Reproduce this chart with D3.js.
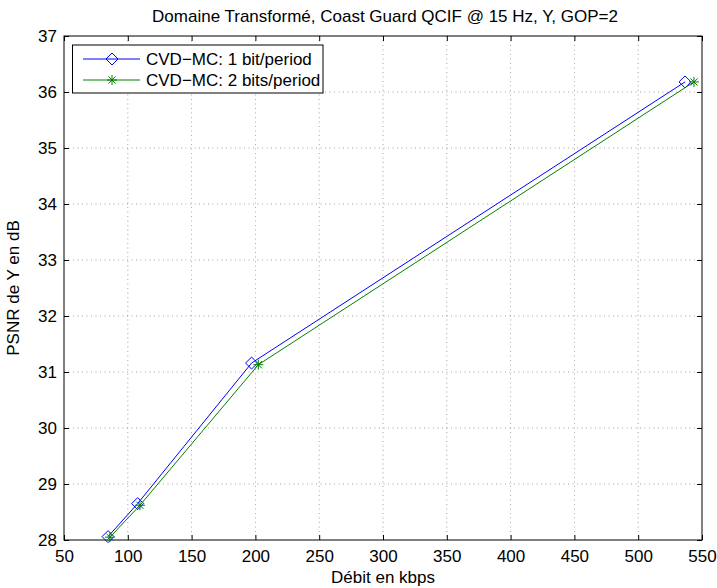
<!DOCTYPE html>
<html><head><meta charset="utf-8">
<script src="https://cdn.jsdelivr.net/npm/d3@7"></script>
<style>body{margin:0;background:#fff}svg{display:block}text{font-family:"Liberation Sans",Arial,sans-serif;fill:#000}</style>
</head><body><svg id="c" width="717" height="588"></svg>
<script>
const title = "Domaine Transformé, Coast Guard QCIF @ 15 Hz, Y, GOP=2";
const xLabel = "Débit en kbps";
const yLabel = "PSNR de Y en dB";
const seriesNames = ["CVD\u2212MC: 1 bit/period", "CVD\u2212MC: 2 bits/period"];
const seriesColors = ["#0000ff", "#008000"];
const s1x = [84.5, 107.7, 197, 536.7];
const s1y = [28.06, 28.65, 31.16, 36.18];
const s2x = [86, 109.5, 202.3, 543.7];
const s2y = [28.05, 28.62, 31.13, 36.18];
const xTicks = [50,100,150,200,250,300,350,400,450,500,550];
const yTicks = [28,29,30,31,32,33,34,35,36,37];

const FS = 17;
const svg = d3.select("#c");
const L=64,R=702,T=36,B=540;
const x = d3.scaleLinear().domain([50,550]).range([L,R]);
const y = d3.scaleLinear().domain([28,37]).range([B,T]);

// grid
const g = svg.append("g");
xTicks.slice(1,-1).forEach(v=>g.append("line").attr("x1",x(v)).attr("x2",x(v)).attr("y1",T).attr("y2",B)
  .attr("stroke","#000").attr("stroke-width",0.6).attr("stroke-dasharray","1,3.5").attr("opacity",0.6));
yTicks.slice(1,-1).forEach(v=>g.append("line").attr("y1",y(v)).attr("y2",y(v)).attr("x1",L).attr("x2",R)
  .attr("stroke","#000").attr("stroke-width",0.6).attr("stroke-dasharray","1,3.5").attr("opacity",0.6));

// axes
const ax = d3.axisBottom(x).tickValues(xTicks).tickSize(-5).tickPadding(10);
svg.append("g").attr("transform",`translate(0,${B})`).call(ax)
 .call(s=>{s.select(".domain").remove();s.selectAll("text").attr("font-size",FS).attr("font-family","Liberation Sans, Arial");});
svg.append("g").attr("transform",`translate(0,${T})`).call(d3.axisTop(x).tickValues(xTicks).tickSize(-5).tickFormat(""))
 .call(s=>s.select(".domain").remove());
const ay = d3.axisLeft(y).tickValues(yTicks).tickSize(-5).tickPadding(7);
svg.append("g").attr("transform",`translate(${L},0)`).call(ay)
 .call(s=>{s.select(".domain").remove();s.selectAll("text").attr("font-size",FS).attr("font-family","Liberation Sans, Arial");});
svg.append("g").attr("transform",`translate(${R},0)`).call(d3.axisRight(y).tickValues(yTicks).tickSize(-5).tickFormat(""))
 .call(s=>s.select(".domain").remove());
svg.selectAll(".tick line").attr("stroke","#000");
svg.append("rect").attr("x",L).attr("y",T).attr("width",R-L).attr("height",B-T).attr("fill","none").attr("stroke","#000").attr("stroke-width",1);

// series
const line = d3.line().x(d=>x(d[0])).y(d=>y(d[1]));
function diamond(sel,cx,cy,c){sel.append("path").attr("d",`M${cx},${cy-6}L${cx+6},${cy}L${cx},${cy+6}L${cx-6},${cy}Z`).attr("fill","none").attr("stroke",c).attr("stroke-width",1);}
function star(sel,cx,cy,c){const r=5,d=3.6;sel.append("path").attr("d",`M${cx-r},${cy}H${cx+r}M${cx},${cy-r}V${cy+r}M${cx-d},${cy-d}L${cx+d},${cy+d}M${cx-d},${cy+d}L${cx+d},${cy-d}`).attr("stroke",c).attr("stroke-width",1);}
const d1 = s1x.map((v,i)=>[v,s1y[i]]);
const d2 = s2x.map((v,i)=>[v,s2y[i]]);
svg.append("path").datum(d1).attr("d",line).attr("fill","none").attr("stroke",seriesColors[0]).attr("stroke-width",1);
d1.forEach(d=>diamond(svg,x(d[0]),y(d[1]),seriesColors[0]));
svg.append("path").datum(d2).attr("d",line).attr("fill","none").attr("stroke",seriesColors[1]).attr("stroke-width",1);
d2.forEach(d=>star(svg,x(d[0]),y(d[1]),seriesColors[1]));

// legend
const lg = svg.append("g");
lg.append("rect").attr("x",72.5).attr("y",45).attr("width",250.5).attr("height",48).attr("fill","#fff").attr("stroke","#000");
[59,80].forEach((yy,i)=>{
  lg.append("line").attr("x1",83).attr("x2",140).attr("y1",yy).attr("y2",yy).attr("stroke",seriesColors[i]);
  if(i===0) diamond(lg,112,yy,seriesColors[0]); else star(lg,112,yy,seriesColors[1]);
  lg.append("text").attr("x",146).attr("y",yy+6).attr("font-size",FS).text(seriesNames[i]);
});

// titles
svg.append("text").attr("x",385).attr("y",22).attr("text-anchor","middle").attr("font-size",FS).text(title);
svg.append("text").attr("x",383).attr("y",583).attr("text-anchor","middle").attr("font-size",FS).text(xLabel);
svg.append("text").attr("transform",`translate(19,${(T+B)/2}) rotate(-90)`).attr("text-anchor","middle").attr("font-size",FS).text(yLabel);
</script></body></html>
